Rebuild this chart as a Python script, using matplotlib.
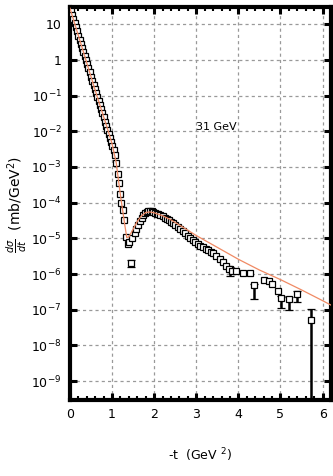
import math
import matplotlib
matplotlib.use('Agg')
import matplotlib.pyplot as plt
from matplotlib.ticker import FixedLocator, MultipleLocator, FuncFormatter

# data (-t in GeV^2, dsigma/dt in mb/GeV^2)
t_steep = [0.02, 0.05, 0.08, 0.11, 0.14, 0.17, 0.20, 0.23, 0.26, 0.29,
           0.32, 0.35, 0.38, 0.41, 0.44, 0.47, 0.50, 0.53, 0.56, 0.59,
           0.62, 0.65, 0.68, 0.71, 0.74, 0.77, 0.80, 0.83, 0.86, 0.89,
           0.92, 0.95, 0.98, 1.01, 1.04, 1.07, 1.10, 1.13, 1.16, 1.19,
           1.22, 1.25, 1.28, 1.33]
ds_steep = [23, 18, 14, 10.7, 8.2, 6.3, 4.8, 3.7, 2.8, 2.2,
            1.66, 1.28, 0.98, 0.76, 0.58, 0.45, 0.34, 0.26, 0.20, 0.155,
            0.12, 0.091, 0.071, 0.054, 0.042, 0.032, 0.0245, 0.0186, 0.0144, 0.011,
            0.0085, 0.0065, 0.005, 0.0038, 0.0029, 0.0022, 1.26e-3, 6.3e-4, 3.5e-4, 1.8e-4,
            1.0e-4, 6.3e-5, 3.2e-5, 1.1e-5]

t_tail = [1.38, 1.41, 1.48, 1.54, 1.58, 1.62, 1.66, 1.70, 1.74, 1.78,
          1.82, 1.86, 1.90, 1.94, 1.98, 2.02, 2.06, 2.10, 2.15, 2.20,
          2.25, 2.30, 2.35, 2.40, 2.45, 2.50, 2.56, 2.62, 2.68, 2.74,
          2.80, 2.86, 2.92, 2.98, 3.04, 3.10, 3.16, 3.22, 3.28, 3.34,
          3.40, 3.48, 3.56, 3.63, 3.70, 3.78, 3.86, 3.95, 4.10, 4.27,
          4.62, 4.72, 4.81, 4.95]
ds_tail = [6.8e-6, 8e-6, 1.0e-5, 1.4e-5, 1.8e-5, 2.3e-5, 3.0e-5, 3.8e-5, 4.5e-5, 5.2e-5,
           5.6e-5, 5.8e-5, 5.8e-5, 5.7e-5, 5.4e-5, 5.1e-5, 4.9e-5, 4.7e-5, 4.4e-5, 4.1e-5,
           3.8e-5, 3.5e-5, 3.2e-5, 2.9e-5, 2.7e-5, 2.4e-5, 2.1e-5, 1.8e-5, 1.6e-5, 1.4e-5,
           1.2e-5, 1.05e-5, 9e-6, 8e-6, 7e-6, 6.3e-6, 5.8e-6, 5.2e-6, 4.7e-6, 4.1e-6,
           3.8e-6, 3.3e-6, 2.6e-6, 2.2e-6, 1.7e-6, 1.4e-6, 1.2e-6, 1.2e-6, 1.1e-6, 1.1e-6,
           7e-7, 6.5e-7, 5.2e-7, 3.4e-7]

# points drawn with error bars
t_err = [1.44, 3.80, 4.38, 5.02, 5.21, 5.40, 5.73]
ds_err = [2.0e-6, 1.35e-6, 4.9e-7, 2.2e-7, 2.0e-7, 2.7e-7, 5.3e-8]
err_lo = [0.4e-6, 0.45e-6, 2.9e-7, 1.1e-7, 1.0e-7, 1.1e-7, 5.29e-8]
err_hi = [0.4e-6, 0.2e-6, 0.5e-7, 0.3e-7, 0.3e-7, 0.6e-7, 5.0e-8]

# model curve
t_fit = [0.0, 0.3, 0.6, 0.9, 1.0, 1.1, 1.2, 1.3, 1.35, 1.4,
         1.5, 1.6, 1.7, 1.8, 1.9, 2.0, 2.2, 2.4, 2.7, 3.0,
         3.5, 4.0, 4.5, 5.0, 5.5, 6.0, 6.2]
ds_fit = [28, 2.0, 0.14, 0.011, 4.5e-3, 1.3e-3, 1.6e-4, 2.5e-5, 1.05e-5, 1.1e-5,
          1.8e-5, 3.0e-5, 4.3e-5, 5.3e-5, 5.5e-5, 5.2e-5, 4.3e-5, 3.3e-5, 2.0e-5, 1.2e-5,
          5.6e-6, 2.6e-6, 1.3e-6, 7e-7, 3.6e-7, 1.8e-7, 1.35e-7]

y_ticks = [1e1, 1e0, 1e-1, 1e-2, 1e-3, 1e-4, 1e-5, 1e-6, 1e-7, 1e-8, 1e-9]

fig = plt.figure(figsize=(3.33, 4.76), dpi=100)
ax = fig.add_axes([0.21, 0.16, 0.784, 0.825])

ax.set_yscale('log')
ax.set_xlim(0, 6.2)
ax.set_ylim(3e-10, 30)

mk = dict(marker='s', ms=5, mfc='white', mec='black', mew=0.9, ls='none')
ax.plot(t_steep, ds_steep, zorder=3, **mk)
ax.plot(t_tail, ds_tail, zorder=3, **mk)
ax.errorbar(t_err, ds_err, yerr=[err_lo, err_hi], ecolor='black', elinewidth=1.8,
            capsize=3, capthick=1.8, zorder=2, **mk)

ax.plot(t_fit, ds_fit, color='#f08a64', lw=0.9, zorder=4)

ax.text(3.0, 1.3e-2, '31 GeV', fontsize=8, va='center', ha='left')

# grid
ax.grid(True, which='major', color='#999999', linestyle=(0, (2.5, 2.5)), lw=0.9)

# ticks
ax.xaxis.set_major_locator(MultipleLocator(1))
ax.xaxis.set_minor_locator(MultipleLocator(0.2))
ax.yaxis.set_major_locator(FixedLocator(y_ticks))
ax.yaxis.set_minor_locator(FixedLocator([]))


def fmt(v, pos):
    if v >= 10:
        return '10'
    if v == 1:
        return '1'
    e = int(round(math.log10(v)))
    return r'$\mathregular{10^{%d}}$' % e


ax.yaxis.set_major_formatter(FuncFormatter(fmt))
ax.tick_params(which='major', direction='in', length=5, width=2.2,
               top=True, right=True, labelsize=9, pad=6)
ax.tick_params(which='minor', direction='in', length=3, width=1.5,
               top=True, right=True)
for s in ax.spines.values():
    s.set_linewidth(3)

fig.text(0.6, 0.044, r'-t  (GeV $^{2}$)', ha='center', va='center', fontsize=9)
fig.text(0.05, 0.57, r'$\frac{d\sigma}{dt}$  (mb/GeV$^{2}$)', rotation=90,
         ha='center', va='center', fontsize=10)

fig.savefig('out.png', dpi=100)
